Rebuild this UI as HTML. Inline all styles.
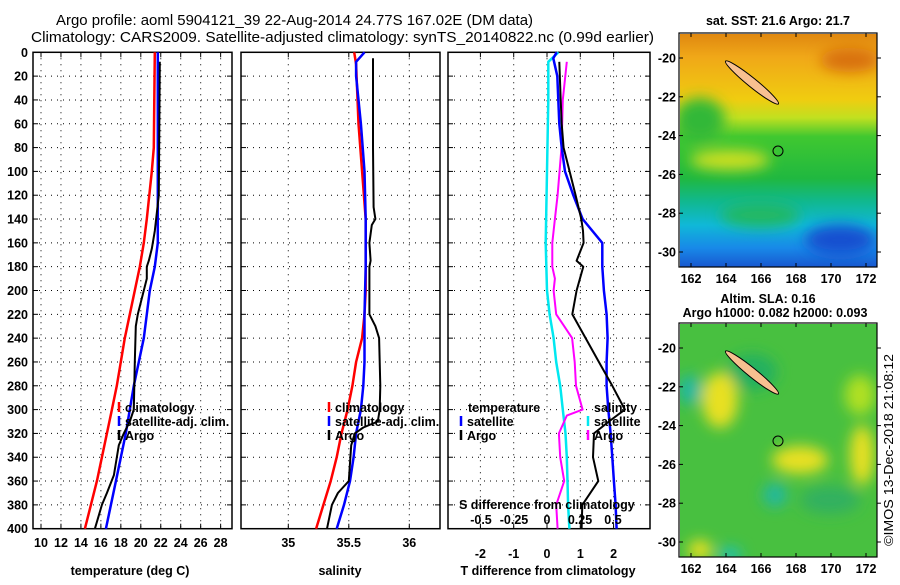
<!DOCTYPE html>
<html><head><meta charset="utf-8"><style>
html,body{margin:0;padding:0;background:#fff;}
svg text{font-family:"Liberation Sans",sans-serif;}
.t{font-weight:bold;font-size:12.5px;fill:#000;}
</style></head><body>
<svg id="chart" xmlns="http://www.w3.org/2000/svg" width="900" height="580" viewBox="0 0 900 580">
<defs>
<linearGradient id="sstGrad" x1="0" y1="0" x2="0" y2="1">
<stop offset="0" stop-color="#e08810"/>
<stop offset="0.1" stop-color="#f0a818"/>
<stop offset="0.28" stop-color="#f0cc10"/>
<stop offset="0.36" stop-color="#c0e020"/>
<stop offset="0.44" stop-color="#40c830"/>
<stop offset="0.62" stop-color="#20b840"/>
<stop offset="0.72" stop-color="#10b890"/>
<stop offset="0.82" stop-color="#10b8d8"/>
<stop offset="0.92" stop-color="#1888e8"/>
<stop offset="1" stop-color="#1858d0"/>
</linearGradient>
<filter id="blur"><feGaussianBlur stdDeviation="7"/></filter>
<clipPath id="mapClip2"><rect x="680" y="324" width="197" height="233"/></clipPath>
<clipPath id="mapClip1"><rect x="680" y="34" width="197" height="233"/></clipPath>
</defs>

<text x="56" y="25" font-size="14.5" textLength="477" lengthAdjust="spacingAndGlyphs">Argo profile: aoml 5904121_39 22-Aug-2014 24.77S 167.02E (DM data)</text>
<text x="31" y="42" font-size="14.5" textLength="623" lengthAdjust="spacingAndGlyphs">Climatology: CARS2009. Satellite-adjusted climatology: synTS_20140822.nc (0.99d earlier)</text>

<g id="panels"></g>

<!-- Map 1 -->
<g>
<text x="778" y="25" text-anchor="middle" class="t" font-size="12">sat. SST: 21.6 Argo: 21.7</text>
<g clip-path="url(#mapClip1)">
<rect x="680" y="34" width="197" height="233" fill="url(#sstGrad)"/>
<g filter="url(#blur)">
<ellipse cx="700" cy="120" rx="25" ry="22" fill="#30b838"/>
<ellipse cx="730" cy="160" rx="40" ry="10" fill="#d0e020"/>
<ellipse cx="850" cy="60" rx="30" ry="12" fill="#d87010"/>
<ellipse cx="760" cy="215" rx="40" ry="12" fill="#20b860"/>
<ellipse cx="840" cy="240" rx="35" ry="15" fill="#1850d0"/>
</g>
<ellipse cx="752" cy="82.5" rx="34" ry="4.5" transform="rotate(39 752 82.5)" fill="#f8c090" stroke="#000" stroke-width="1"/>
<circle cx="778" cy="151" r="5" fill="none" stroke="#000" stroke-width="1"/>
</g>
<rect x="679" y="33" width="198" height="234" fill="none" stroke="#000" stroke-width="1.2"/>
<g id="map1axes"></g>
</g>

<!-- Map 2 -->
<g>
<text x="768" y="303" text-anchor="middle" class="t" font-size="12">Altim. SLA: 0.16</text>
<text x="775" y="317" text-anchor="middle" class="t" font-size="12">Argo h1000: 0.082 h2000: 0.093</text>
<g clip-path="url(#mapClip2)">
<rect x="680" y="324" width="197" height="233" fill="#48c040"/>
<g filter="url(#blur)">
<ellipse cx="752" cy="372" rx="25" ry="18" fill="#20b060"/>
<ellipse cx="720" cy="400" rx="18" ry="28" fill="#e8e020"/>
<ellipse cx="690" cy="390" rx="12" ry="15" fill="#20b8a0"/>
<ellipse cx="800" cy="460" rx="28" ry="14" fill="#e8e020"/>
<ellipse cx="862" cy="455" rx="12" ry="30" fill="#e8e020"/>
<ellipse cx="860" cy="395" rx="15" ry="20" fill="#b0e020"/>
<ellipse cx="775" cy="495" rx="12" ry="12" fill="#20b8a0"/>
<ellipse cx="700" cy="550" rx="12" ry="10" fill="#e8e020"/>
<ellipse cx="730" cy="555" rx="12" ry="8" fill="#20c0b0"/>
<ellipse cx="830" cy="500" rx="30" ry="14" fill="#30b060"/>
</g>
<ellipse cx="752" cy="372.5" rx="34" ry="4.5" transform="rotate(39 752 372.5)" fill="#f8c090" stroke="#000" stroke-width="1"/>
<circle cx="778" cy="441" r="5" fill="none" stroke="#000" stroke-width="1"/>
</g>
<rect x="679" y="323" width="198" height="234" fill="none" stroke="#000" stroke-width="1.2"/>
<g id="map2axes"></g>
</g>

<text x="0" y="0" font-size="12.5" transform="translate(893 546) rotate(-90)" textLength="192" lengthAdjust="spacingAndGlyphs">©IMOS 13-Dec-2018 21:08:12</text>

<script>
// ---- data ----
const tempClimDepth = [0,80,100,140,160,180,200,240,280,300,340,360,400];
const tempClim      = [21.4,21.3,21.1,20.6,20.3,19.9,19.4,18.4,17.6,17.1,16.1,15.6,14.4];
const tempSatDepth  = [0,160,180,200,240,280,320,360,400];
const tempSat       = [21.7,21.7,21.4,20.9,20.3,19.3,18.5,17.5,16.5];
const tempArgoDepth = [8,120,150,165,175,180,190,200,220,230,260,300,310,320,330,355,370,380,400];
const tempArgo      = [21.9,21.8,21.4,21.1,20.8,20.6,20.6,20.3,19.7,19.5,19.4,19.3,18.9,18.3,17.8,17.3,16.6,16.1,15.4];

const salClimDepth = [0,10,60,100,140,200,220,240,260,280,300,320,340,360,380,400];
const salClim      = [35.545,35.56,35.58,35.61,35.64,35.64,35.63,35.61,35.56,35.53,35.49,35.44,35.40,35.35,35.29,35.23];
const salSatDepth  = [0,8,20,60,100,140,180,220,260,280,300,320,340,360,380,400];
const salSat       = [35.63,35.56,35.56,35.60,35.63,35.64,35.64,35.63,35.63,35.62,35.60,35.56,35.54,35.51,35.46,35.40];
const salArgoDepth = [5,80,130,140,145,160,175,180,220,230,240,280,300,310,315,320,330,360,370,380,400];
const salArgo      = [35.70,35.70,35.705,35.72,35.69,35.67,35.68,35.67,35.67,35.72,35.75,35.76,35.755,35.74,35.62,35.55,35.52,35.50,35.41,35.36,35.32];

const dTSatDepth  = [0,5,20,60,80,100,120,140,160,180,200,220,240,260,280,300,320,340,360,380,400];
const dTSat       = [0.29,0.19,0.31,0.37,0.44,0.54,0.79,1.07,1.66,1.66,1.71,1.79,1.82,1.79,1.79,1.84,1.91,1.96,2.01,2.06,2.09];
const dTArgoDepth = [8,40,60,80,100,120,140,150,160,175,180,200,220,240,260,280,300,310,320,340,360,380,400];
const dTArgo      = [0.37,0.41,0.44,0.5,0.68,0.86,1.03,1.08,1.1,0.89,1.09,0.89,0.76,1.16,1.56,1.96,2.34,1.86,1.41,1.38,1.54,1.06,1.04];
const dSSatDepth  = [0,8,40,100,160,200,220,240,260,280,300,320,340,360,380,400];
const dSSat       = [0.086,0.01,0.01,0.0,-0.01,0.0,0.02,0.05,0.07,0.10,0.12,0.14,0.15,0.155,0.16,0.17];
const dSArgoDepth = [8,40,80,120,140,160,180,190,200,220,230,240,260,280,300,305,320,340,360,380,400];
const dSArgo      = [0.15,0.12,0.11,0.08,0.06,0.04,0.04,0.06,0.05,0.07,0.13,0.19,0.21,0.22,0.27,0.15,0.09,0.10,0.13,0.07,0.08];

const depthTicks = [0,20,40,60,80,100,120,140,160,180,200,220,240,260,280,300,320,340,360,380,400];
const tempTicks = [10,12,14,16,18,20,22,24,26,28];
const salTicks = [35,35.5,36];
const salTickLabels = ["35","35.5","36"];
const dTTicks = [-2,-1,0,1,2];
const dSTicks = [-0.5,-0.25,0,0.25,0.5];
const lonTicks = [162,164,166,168,170,172];
const latTicks = [-20,-22,-24,-26,-28,-30];

// ---- axes ----
const Y0=52.3, Y1=528.7;
const yD = d => Y0 + d*(Y1-Y0)/400;
const xT = t => 41 + (t-10)*9.98;
const xS = s => 288.3 + (s-35)*121;
const xDT = t => 547 + t*33.3;
const xDS = s => 547 + s*132;
const xLon = l => 691 + (l-162)*17.5;
const yLat = (l,top) => top + (-20-l)*19.4;

const NS="http://www.w3.org/2000/svg";
const root=document.getElementById('panels');
function mk(tag,attrs,parent){const e=document.createElementNS(NS,tag);for(const k in attrs)e.setAttribute(k,attrs[k]);(parent||root).appendChild(e);return e;}
function txt(s,attrs,parent){const e=mk('text',attrs,parent);e.textContent=s;return e;}

function panel(name,x0,x1,vticks,xf){
  const g=mk('g',{});
  
  
  depthTicks.forEach(d=>{ if(d>0&&d<400){ const l=mk('line',{x1:x0,x2:x1,y1:yD(d),y2:yD(d),stroke:'#000','stroke-width':1,'stroke-dasharray':'1 5'},g);
    
    
    mk('line',{x1:x0,x2:x0+5,y1:yD(d),y2:yD(d),stroke:'#000'},g); mk('line',{x1:x1-5,x2:x1,y1:yD(d),y2:yD(d),stroke:'#000'},g);} });
  vticks.forEach(v=>{ const X=xf(v); const l=mk('line',{x1:X,x2:X,y1:Y0,y2:Y1,stroke:'#000','stroke-width':1,'stroke-dasharray':'1 5'},g);
    
    
    mk('line',{x1:X,x2:X,y1:Y1-5,y2:Y1,stroke:'#000'},g); mk('line',{x1:X,x2:X,y1:Y0,y2:Y0+5,stroke:'#000'},g);});
  const r=mk('rect',{x:x0,y:Y0,width:x1-x0,height:Y1-Y0,fill:'none',stroke:'#000','stroke-width':1.5},g);
  
  
  return g;
}
function series(g,name,depths,vals,xf,color,w){
  const pts=depths.map((d,i)=>xf(vals[i]).toFixed(1)+','+yD(d).toFixed(1)).join(' ');
  const p=mk('polyline',{points:pts,fill:'none',stroke:color,'stroke-width':w,'stroke-linejoin':'round'},g);
  
  
}
function legend(g,x,y,items){
  items.forEach((it,i)=>{
    mk('line',{x1:x,x2:x,y1:y+i*14-10,y2:y+i*14,stroke:it[1],'stroke-width':2.5},g);
    const t=txt(it[0],{x:x+6,y:y+i*14,class:'t'},g);
    
    
  });
}

// depth labels
const dl=mk('g',{});


depthTicks.forEach(d=>{ txt(String(d),{x:28,y:yD(d)+4.5,'text-anchor':'end',class:'t'},dl); });

// Panel 1
const g1=panel('temperature-panel',33,232,tempTicks,xT);
series(g1,'temp-climatology-line',tempClimDepth,tempClim,xT,'#ff0000',2.5);
series(g1,'temp-satellite-line',tempSatDepth,tempSat,xT,'#0000ff',2.5);
series(g1,'temp-argo-line',tempArgoDepth,tempArgo,xT,'#000',2);
tempTicks.forEach(t=>txt(String(t),{x:xT(t),y:547,'text-anchor':'middle',class:'t'},g1));
txt('temperature (deg C)',{x:130,y:575,'text-anchor':'middle',class:'t'},g1);
legend(g1,119,412,[['climatology','#ff0000'],['satellite-adj. clim.','#0000ff'],['Argo','#000']]);

// Panel 2
const g2=panel('salinity-panel',241,440,salTicks,xS);
series(g2,'sal-climatology-line',salClimDepth,salClim,xS,'#ff0000',2.5);
series(g2,'sal-satellite-line',salSatDepth,salSat,xS,'#0000ff',2.5);
series(g2,'sal-argo-line',salArgoDepth,salArgo,xS,'#000',2);
salTicks.forEach((t,i)=>txt(salTickLabels[i],{x:xS(t),y:547,'text-anchor':'middle',class:'t'},g2));
txt('salinity',{x:340,y:575,'text-anchor':'middle',class:'t'},g2);
legend(g2,329,412,[['climatology','#ff0000'],['satellite-adj. clim.','#0000ff'],['Argo','#000']]);

// Panel 3
const g3=panel('difference-panel',448,650,dTTicks,xDT);
series(g3,'dS-satellite-line',dSSatDepth,dSSat,xDS,'#00e8f0',2.5);
series(g3,'dS-argo-line',dSArgoDepth,dSArgo,xDS,'#ff00ff',2);
series(g3,'dT-satellite-line',dTSatDepth,dTSat,xDT,'#0000ff',2.5);
series(g3,'dT-argo-line',dTArgoDepth,dTArgo,xDT,'#000',2);
dTTicks.forEach(t=>txt(String(t),{x:xDT(t),y:558,'text-anchor':'middle',class:'t'},g3));
txt('T difference from climatology',{x:548,y:575,'text-anchor':'middle',class:'t'},g3);
txt('S difference from climatology',{x:459,y:509,class:'t'},g3);
dSTicks.forEach(t=>txt(String(t),{x:xDS(t),y:524,'text-anchor':'middle',class:'t'},g3));
txt('temperature',{x:468,y:412,class:'t'},g3);
legend(g3,461,426,[['satellite','#0000ff'],['Argo','#000']]);
txt('salinity',{x:594,y:412,class:'t'},g3);
legend(g3,588,426,[['satellite','#00e8f0'],['Argo','#ff00ff']]);

// map axes
function mapAxes(id,top,bottom){
  const g=document.getElementById(id);
  lonTicks.forEach(l=>{ const X=xLon(l);
    mk('line',{x1:X,x2:X,y1:bottom,y2:bottom-4,stroke:'#000'},g);
    mk('line',{x1:X,x2:X,y1:top,y2:top+4,stroke:'#000'},g);
    const t=txt(String(l),{x:X,y:bottom+16,'text-anchor':'middle',class:'t'},g);
    
    
  });
  latTicks.forEach(l=>{ const Y=yLat(l,top+25);
    mk('line',{x1:877,x2:881,y1:Y,y2:Y,stroke:'#000'},g);
    mk('line',{x1:679,x2:683,y1:Y,y2:Y,stroke:'#000'},g);
    const t=txt(String(l),{x:676,y:Y+4.5,'text-anchor':'end',class:'t'},g);
    
    
  });
}
mapAxes('map1axes',33,267);
mapAxes('map2axes',323,557);
</script>
</svg>
</body></html>
